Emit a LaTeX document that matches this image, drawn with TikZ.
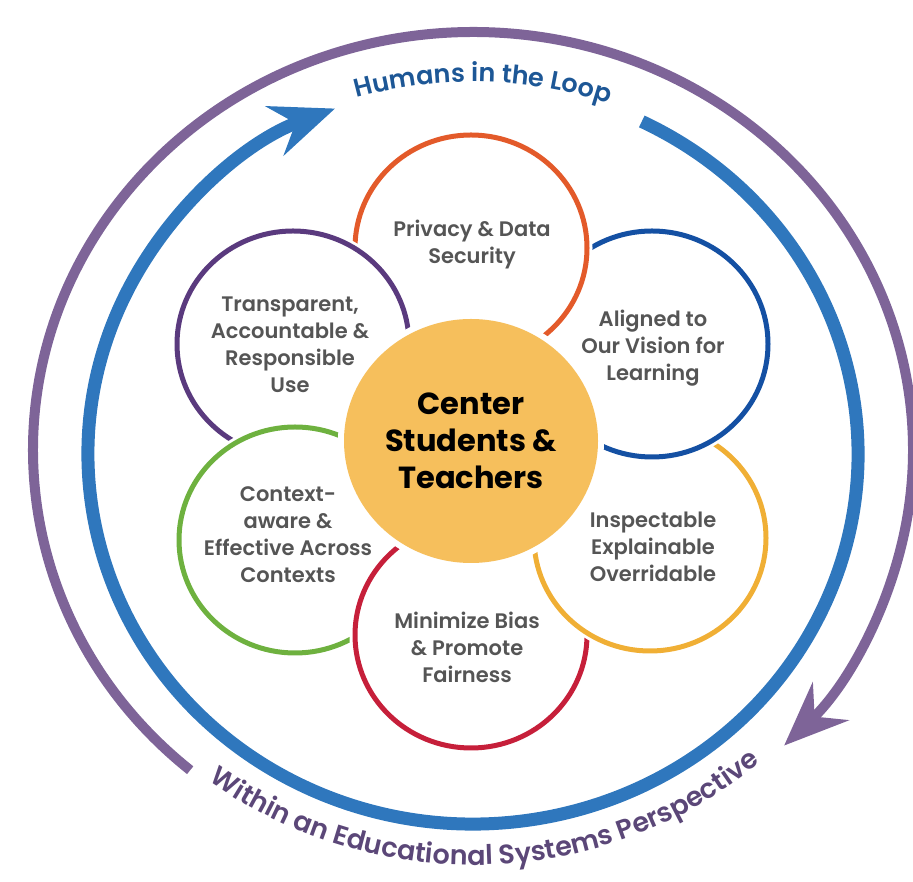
\documentclass[tikz,border=0pt]{standalone}
\usepackage{fontspec}
\setmainfont{Poppins}
\newfontfamily\petalfont{Poppins}[UprightFont={* SemiBold}]
\usetikzlibrary{arrows.meta,decorations.text}
\definecolor{cOrange}{HTML}{E35A2A}
\definecolor{cBlue}{HTML}{1450A3}
\definecolor{cYellow}{HTML}{F0AF35}
\definecolor{cRed}{HTML}{C61F3A}
\definecolor{cGreen}{HTML}{6EB13F}
\definecolor{cPurple}{HTML}{5A3A7E}
\definecolor{cCenter}{HTML}{F6BF5C}
\definecolor{ringBlue}{HTML}{2F77BD}
\definecolor{ringPurple}{HTML}{7E6498}
\definecolor{txtGray}{HTML}{555555}
\definecolor{txtBlue}{HTML}{1D5796}
\definecolor{txtPurple}{HTML}{5B4778}
\newcommand\humtextfont{\petalfont\fontsize{25.5}{30}\selectfont\color{txtBlue}}
\newcommand\systextfont{\petalfont\fontsize{27}{30}\selectfont\color{txtPurple}}
% petal: #1 cx, #2 cy, #3 colour, #4 cover cx, #5 cover cy
\newcommand\drawpetal[5]{%
  \begin{scope}
    \clip (-100,-100) -- (1100,-100) -- (1100,1100) -- (-100,1100) -- cycle
          ({#4+121.5},{#5}) arc[start angle=0, end angle=-360, x radius=121.5pt, y radius=118.5pt];
    \draw[petalline, draw=#3] (#1,#2) ellipse[x radius=116pt, y radius=113pt];
  \end{scope}}
\tikzset{
  petalline/.style={line width=5pt},
  petaltext/.style={align=center, text=txtGray, font=\petalfont\fontsize{21}{27}\selectfont, inner sep=0pt},
  centertext/.style={align=center, text=black, font=\bfseries\fontsize{30.5}{37}\selectfont, inner sep=0pt},
  ringB/.style={draw=ringBlue, line width=13pt},
  ringP/.style={draw=ringPurple, line width=10pt},
  bigtip/.style={-{Stealth[length=64pt, width=52pt, inset=22pt]}},
}
\begin{document}
\begin{tikzpicture}[x=1pt,y=1pt]
\useasboundingbox (0,0) rectangle (913,881);
% outer rings
\draw[ringP, bigtip] ([shift={(473,431)}]230:440pt and 418pt)
   arc[start angle=230, end angle=-45, x radius=440pt, y radius=418pt];
\draw[ringB, bigtip] ([shift={(473,427)}]64:385pt and 370pt)
   arc[start angle=64, end angle=-249, x radius=385pt, y radius=370pt];
% curved texts
\path[decorate, decoration={text along path, text align=center,
      text={|\humtextfont|Humans in the Loop}}]
   ([shift={(473,431)}]125:402pt and 368pt)
   arc[start angle=125, end angle=52, x radius=402pt, y radius=368pt];
\path[decorate, decoration={text along path, text align=center,
      text={|\systextfont|Within an Educational Systems Perspective}}]
   ([shift={(473,431)}]224:437pt and 415pt)
   arc[start angle=224, end angle=320, x radius=437pt, y radius=415pt];
% petals (each hidden inside its counter-clockwise neighbour)
\drawpetal{471}{633}{cOrange}{293}{537}
\drawpetal{652}{537}{cBlue}{471}{633}
\drawpetal{650}{343}{cYellow}{652}{537}
\drawpetal{471}{246}{cRed}{650}{343}
\drawpetal{295}{341}{cGreen}{471}{246}
\drawpetal{293}{537}{cPurple}{295}{341}
% centre
\fill[white] (471,440) ellipse[x radius=133pt, y radius=128pt];
\fill[cCenter] (471,440) ellipse[x radius=127pt, y radius=122pt];
\node[centertext] (tCenter) at (471,440) {Center\\Students \&\\Teachers};
% petal texts
\node[petaltext] (tPriv) at (472,636) {Privacy \& Data\\Security};
\node[petaltext] (tAlign) at (653,533) {Aligned to\\Our Vision for\\Learning};
\node[petaltext] (tInsp) at (653,334) {Inspectable\\Explainable\\Overridable};
\node[petaltext] (tBias) at (467,234) {Minimize Bias\\\& Promote\\Fairness};
\node[petaltext] (tCtx) at (288,346) {Context-\\aware \&\\Effective Across\\Contexts};
\node[petaltext] (tTrans) at (290,536) {Transparent,\\Accountable \&\\Responsible\\Use};
\end{tikzpicture}
\end{document}
